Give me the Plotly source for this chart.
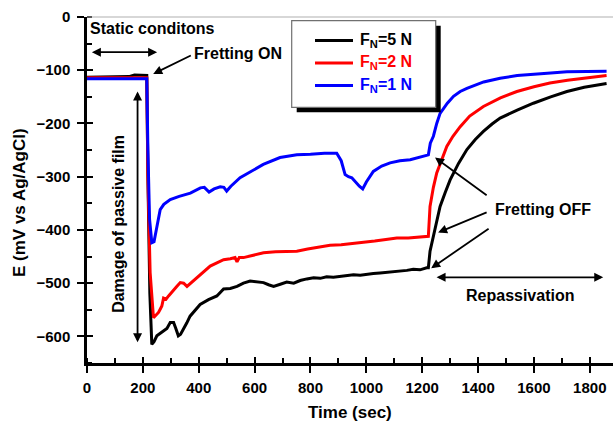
import plotly.graph_objects as go

# ---------------- data ----------------
t_5N = [0, 50, 100, 150, 170, 200, 214, 218, 225, 232, 240, 250, 262, 274, 286, 298, 310, 318, 327, 335,
        345, 357, 369, 387, 405, 435, 465, 489, 513, 537, 560, 584, 608, 632, 650, 668, 692, 715, 740, 763,
        787, 811, 835, 858, 882, 906, 930, 954, 978, 1001, 1025, 1049, 1073, 1097, 1121, 1145, 1168, 1192,
        1216, 1222, 1228, 1240, 1252, 1264, 1282, 1300, 1330, 1360, 1390, 1419, 1450, 1479, 1540, 1598,
        1660, 1718, 1780, 1860]
E_5N = [-113, -113, -112, -112, -109, -109, -110, -300, -520, -615, -610, -599, -594, -590, -585, -574, -574,
        -585, -599, -596, -587, -575, -562, -550, -540, -531, -524, -511, -510, -506, -500, -496, -498, -499,
        -503, -506, -502, -498, -500, -495, -492, -490, -491, -488, -489, -487, -486, -484, -485, -483, -482,
        -481, -480, -479, -478, -476, -474, -475, -471, -471, -440, -412, -382, -356, -330, -306, -275, -249,
        -230, -215, -201, -190, -175, -162, -150, -140, -132, -125]

t_2N = [0, 100, 200, 214, 218, 226, 238, 246, 256, 262, 268, 274, 283, 292, 301, 310, 322, 334, 346, 358,
        375, 393, 417, 441, 465, 489, 513, 530, 537, 545, 560, 590, 632, 675, 715, 751, 790, 830, 870, 910,
        950, 989, 1030, 1070, 1109, 1150, 1190, 1216, 1222, 1228, 1240, 1252, 1270, 1288, 1310, 1336, 1370,
        1419, 1480, 1539, 1600, 1657, 1720, 1777, 1860]
E_2N = [-114, -114, -114, -114, -300, -480, -565, -560, -555, -549, -543, -528, -530, -524, -518, -512, -506,
        -499, -500, -506, -498, -490, -478, -468, -462, -456, -454, -452, -460, -452, -452, -448, -443, -441,
        -440, -440, -436, -432, -429, -428, -426, -424, -421, -418, -415, -415, -413, -412, -412, -356, -320,
        -293, -266, -243, -224, -206, -186, -168, -152, -140, -131, -124, -119, -115, -110]

t_1N = [0, 100, 200, 214, 218, 224, 232, 240, 248, 256, 262, 275, 298, 330, 370, 406, 420, 437, 455, 477,
        490, 500, 515, 548, 590, 631, 691, 751, 800, 850, 894, 910, 924, 936, 948, 960, 975, 987, 1000, 1025,
        1055, 1085, 1120, 1157, 1190, 1214, 1222, 1229, 1240, 1252, 1264, 1290, 1312, 1336, 1360, 1420, 1479,
        1540, 1598, 1660, 1718, 1780, 1860]
E_1N = [-116, -116, -116, -116, -250, -380, -424, -422, -400, -375, -362, -352, -343, -337, -331, -321, -320,
        -329, -323, -319, -320, -327, -318, -302, -290, -277, -264, -259, -258, -256, -256, -270, -296, -300,
        -302, -310, -318, -323, -310, -290, -280, -274, -270, -268, -264, -261, -259, -237, -224, -200, -181,
        -162, -149, -140, -134, -122, -115, -110, -107, -105, -103, -103, -102]

series_names = ["F<sub>N</sub>=5 N", "F<sub>N</sub>=2 N", "F<sub>N</sub>=1 N"]
series_colors = ["#000000", "#ff0000", "#0000ff"]

x_range = [0, 1883]
y_range = [-650, 0]

FONT = "Liberation Sans, Arial, sans-serif"

fig = go.Figure()
for tt, ee, nm, col in zip([t_5N, t_2N, t_1N], [E_5N, E_2N, E_1N], series_names, series_colors):
    fig.add_trace(go.Scatter(x=tt, y=ee, mode="lines", name=nm,
                             line=dict(color=col, width=3), showlegend=False))

# dummy trace for the overlay axes (inner halves of the crossing major ticks)
fig.add_trace(go.Scatter(x=[None], y=[None], xaxis="x2", yaxis="y2", showlegend=False, hoverinfo="skip"))

tickfont = dict(family=FONT, size=15, color="black", weight="bold")

fig.update_layout(
    width=613, height=425,
    margin=dict(l=87, r=0, t=17, b=62),
    paper_bgcolor="white", plot_bgcolor="white",
    xaxis=dict(range=x_range, tick0=0, dtick=200, ticks="outside", ticklen=7, tickwidth=2,
               tickcolor="black", showline=True, linewidth=2.5, linecolor="black",
               showgrid=False, zeroline=False, tickfont=tickfont, ticklabelstandoff=2,
               minor=dict(ticks="inside", dtick=100, tick0=0, ticklen=5, tickwidth=2, tickcolor="black")),
    yaxis=dict(range=y_range, tick0=0, dtick=100, ticks="outside", ticklen=7, tickwidth=2,
               tickcolor="black", showline=True, linewidth=2.5, linecolor="black",
               showgrid=False, zeroline=False, tickfont=tickfont, ticklabelstandoff=4,
               minor=dict(ticks="inside", dtick=50, tick0=0, ticklen=5, tickwidth=2, tickcolor="black")),
    xaxis2=dict(range=x_range, overlaying="x", anchor="y", side="bottom", tick0=0, dtick=200,
                ticks="inside", ticklen=6, tickwidth=2, tickcolor="black", showticklabels=False,
                showline=False, showgrid=False, zeroline=False),
    yaxis2=dict(range=y_range, overlaying="y", anchor="x", side="left", tick0=0, dtick=100,
                ticks="inside", ticklen=6, tickwidth=2, tickcolor="black", showticklabels=False,
                showline=False, showgrid=False, zeroline=False),
    showlegend=False,
)

def px2x(p):
    return (p - 87) / 526.0

def py2y(p):
    return (363 - p) / 346.0

shapes = []
# thin grey top frame line
shapes.append(dict(type="line", xref="paper", yref="paper", x0=0, x1=1, y0=1, y1=1,
                   line=dict(color="#b0b0b0", width=1.2), layer="above"))
# legend box with shadow
shapes.append(dict(type="rect", xref="paper", yref="paper", x0=px2x(296.7), x1=px2x(440.7),
                   y0=py2y(112.3), y1=py2y(25.7), fillcolor="black", line=dict(width=0), layer="above"))
shapes.append(dict(type="rect", xref="paper", yref="paper", x0=px2x(291.7), x1=px2x(435.7),
                   y0=py2y(107.3), y1=py2y(20.7), fillcolor="white",
                   line=dict(color="#707070", width=1.2), layer="above"))

annotations = []
row_y = [40.5, 63, 85.5]
for nm, col, ry in zip(series_names, series_colors, row_y):
    shapes.append(dict(type="line", xref="paper", yref="paper", x0=px2x(315), x1=px2x(353),
                       y0=py2y(ry), y1=py2y(ry), line=dict(color=col, width=3), layer="above"))
    annotations.append(dict(xref="paper", yref="paper", x=px2x(358), y=py2y(ry), text=nm,
                            showarrow=False, xanchor="left", yanchor="middle",
                            font=dict(family=FONT, size=16, color=col, weight="bold")))

afont = dict(family=FONT, size=16, color="black", weight="bold")

def label(x, y, text, xanchor="left", angle=0):
    annotations.append(dict(x=x, y=y, xref="x", yref="y", text=text, showarrow=False,
                            xanchor=xanchor, yanchor="middle", textangle=angle, font=afont))

def arrow(x_head, y_head, x_tail, y_tail, both=False):
    annotations.append(dict(x=x_head, y=y_head, ax=x_tail, ay=y_tail, xref="x", yref="y",
                            axref="x", ayref="y", text="", showarrow=True, arrowhead=2,
                            arrowsize=1.0, arrowwidth=1.8, arrowcolor="black", standoff=0,
                            startstandoff=0, startarrowhead=2, startarrowsize=1.0,
                            arrowside="end+start" if both else "end"))

label(4, -22, "Static conditons")
arrow(251, -66, 12, -66, both=True)
label(377, -69, "Fretting ON")
arrow(237, -107, 377, -71)
label(112, -388, "Damage of passive film", xanchor="center", angle=-90)
arrow(181, -611, 181, -137, both=True)
label(1455, -362, "Fretting OFF")
arrow(1246, -264, 1436, -337)
arrow(1257, -405, 1436, -366)
arrow(1232, -472, 1443, -396)
label(1550, -523, "Repassivation", xanchor="center")
arrow(1848, -489, 1246, -489, both=True)

# axis titles
tfont = dict(family=FONT, size=17, color="black", weight="bold")
annotations.append(dict(xref="paper", yref="paper", x=px2x(350), y=py2y(412), text="Time (sec)",
                        showarrow=False, xanchor="center", yanchor="middle", font=tfont))
annotations.append(dict(xref="paper", yref="paper", x=px2x(19), y=py2y(203), text="E (mV vs Ag/AgCl)",
                        showarrow=False, xanchor="center", yanchor="middle", textangle=-90, font=tfont))

fig.update_layout(shapes=shapes, annotations=annotations)

fig.write_html("out.html")
